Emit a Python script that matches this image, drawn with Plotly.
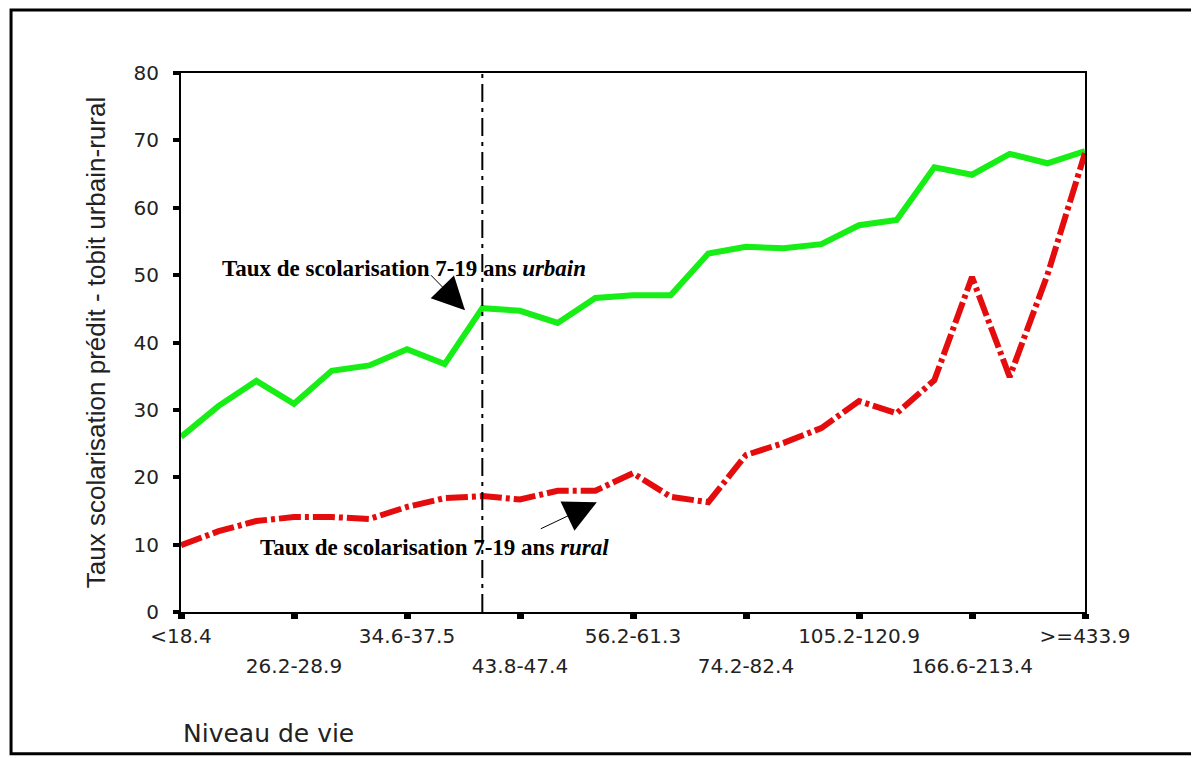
import plotly.graph_objects as go

# --- data -------------------------------------------------------------
level_index = [0, 1, 2, 3, 4, 5, 6, 7, 8, 9, 10, 11, 12,
               13, 14, 15, 16, 17, 18, 19, 20, 21, 22, 23, 24]
urbain = [26.0, 30.6, 34.3, 30.9, 35.8, 36.6, 39.0, 36.8, 45.1, 44.7, 42.9, 46.6, 47.0,
          47.0, 53.2, 54.2, 54.0, 54.6, 57.4, 58.2, 66.0, 64.9, 68.0, 66.6, 68.4]
rural = [9.9, 12.0, 13.5, 14.1, 14.1, 13.8, 15.6, 16.9, 17.2, 16.7, 18.0, 18.0, 20.6,
         17.1, 16.3, 23.3, 25.1, 27.3, 31.3, 29.5, 34.4, 49.7, 34.9, 50.0, 68.1]

row1_pos = [0, 6, 12, 18, 24]
row1_labels = ["<18.4", "34.6-37.5", "56.2-61.3", "105.2-120.9", ">=433.9"]
row2_pos = [3, 9, 15, 21]
row2_labels = ["26.2-28.9", "43.8-47.4", "74.2-82.4", "166.6-213.4"]
y_ticks = [0, 10, 20, 30, 40, 50, 60, 70, 80]
divider_index = 8

# --- figure -----------------------------------------------------------
fig = go.Figure()
fig.add_trace(go.Scatter(x=level_index, y=urbain, mode="lines",
                         line=dict(color="rgb(22,238,22)", width=6),
                         showlegend=False))
fig.add_trace(go.Scatter(x=level_index, y=rural, mode="lines",
                         line=dict(color="rgb(228,12,12)", width=6,
                                   dash="22px,4px,4px,4px"),
                         showlegend=False))
fig.add_trace(go.Scatter(x=[], y=[], xaxis="x2", showlegend=False))

all_pos = sorted(row1_pos + row2_pos)
all_text = [row1_labels[row1_pos.index(p)] if p in row1_pos else "" for p in all_pos]

tick_font = dict(family="DejaVu Sans", size=20, color="#222")
fig.update_layout(
    width=1191, height=750,
    margin=dict(l=173, r=114, t=65, b=146),
    paper_bgcolor="white", plot_bgcolor="white",
    xaxis=dict(range=[0, 24], tickmode="array", tickvals=all_pos, ticktext=all_text,
               ticks="outside", ticklen=5, tickwidth=7, tickcolor="black",
               showline=True, linewidth=2, linecolor="black", mirror=True,
               showgrid=False, zeroline=False, tickfont=tick_font,
               ticklabelstandoff=0),
    xaxis2=dict(range=[0, 24], overlaying="x", anchor="y", side="bottom",
                tickmode="array", tickvals=row2_pos, ticktext=row2_labels,
                ticks="", showline=False, showgrid=False, zeroline=False,
                tickfont=tick_font, ticklabelstandoff=40),
    yaxis=dict(range=[0, 80], tickmode="array", tickvals=y_ticks,
               ticks="outside", ticklen=6, tickwidth=4, tickcolor="black",
               showline=True, linewidth=2, linecolor="black", mirror=True,
               showgrid=False, zeroline=False, tickfont=tick_font,
               ticklabelstandoff=10,
               title=dict(text="Taux scolarisation prédit - tobit urbain-rural",
                          font=dict(family="Liberation Sans", size=26, color="#222"),
                          standoff=20)),
)

fig.add_shape(type="line", xref="x", yref="y", x0=divider_index, x1=divider_index,
              y0=0, y1=80, line=dict(color="black", width=2, dash="18px,6px,4px,6px"))
fig.add_shape(type="rect", xref="paper", yref="paper", x0=-0.188, x1=1.124,
              y0=-0.263, y1=1.117, line=dict(color="black", width=3))

ann_font = dict(family="Liberation Serif", size=23, color="black")
fig.add_annotation(x=1.03, y=51.0, xref="x", yref="y", xanchor="left", yanchor="middle",
                   text="<b>Taux de scolarisation 7-19 ans <i>urbain</i></b>",
                   showarrow=False, font=ann_font)
fig.add_annotation(x=2.04, y=9.6, xref="x", yref="y", xanchor="left", yanchor="middle",
                   text="<b>Taux de scolarisation 7-19 ans <i>rural</i></b>",
                   showarrow=False, font=ann_font)
fig.add_annotation(x=7.54, y=44.8, xref="x", yref="y", ax=-37, ay=-38, text=" ",
                   showarrow=True, arrowhead=2, arrowsize=6.5, arrowwidth=1,
                   arrowcolor="black", standoff=0)
fig.add_annotation(x=11.04, y=16.3, xref="x", yref="y", ax=-59, ay=28, text=" ",
                   showarrow=True, arrowhead=2, arrowsize=6.5, arrowwidth=1,
                   arrowcolor="black", standoff=0)
fig.add_annotation(x=0, y=-0.2245, xref="paper", yref="paper", xanchor="left",
                   yanchor="middle", text="Niveau de vie", showarrow=False,
                   font=dict(family="DejaVu Sans", size=25, color="#222"))

fig.write_html("out.html")
